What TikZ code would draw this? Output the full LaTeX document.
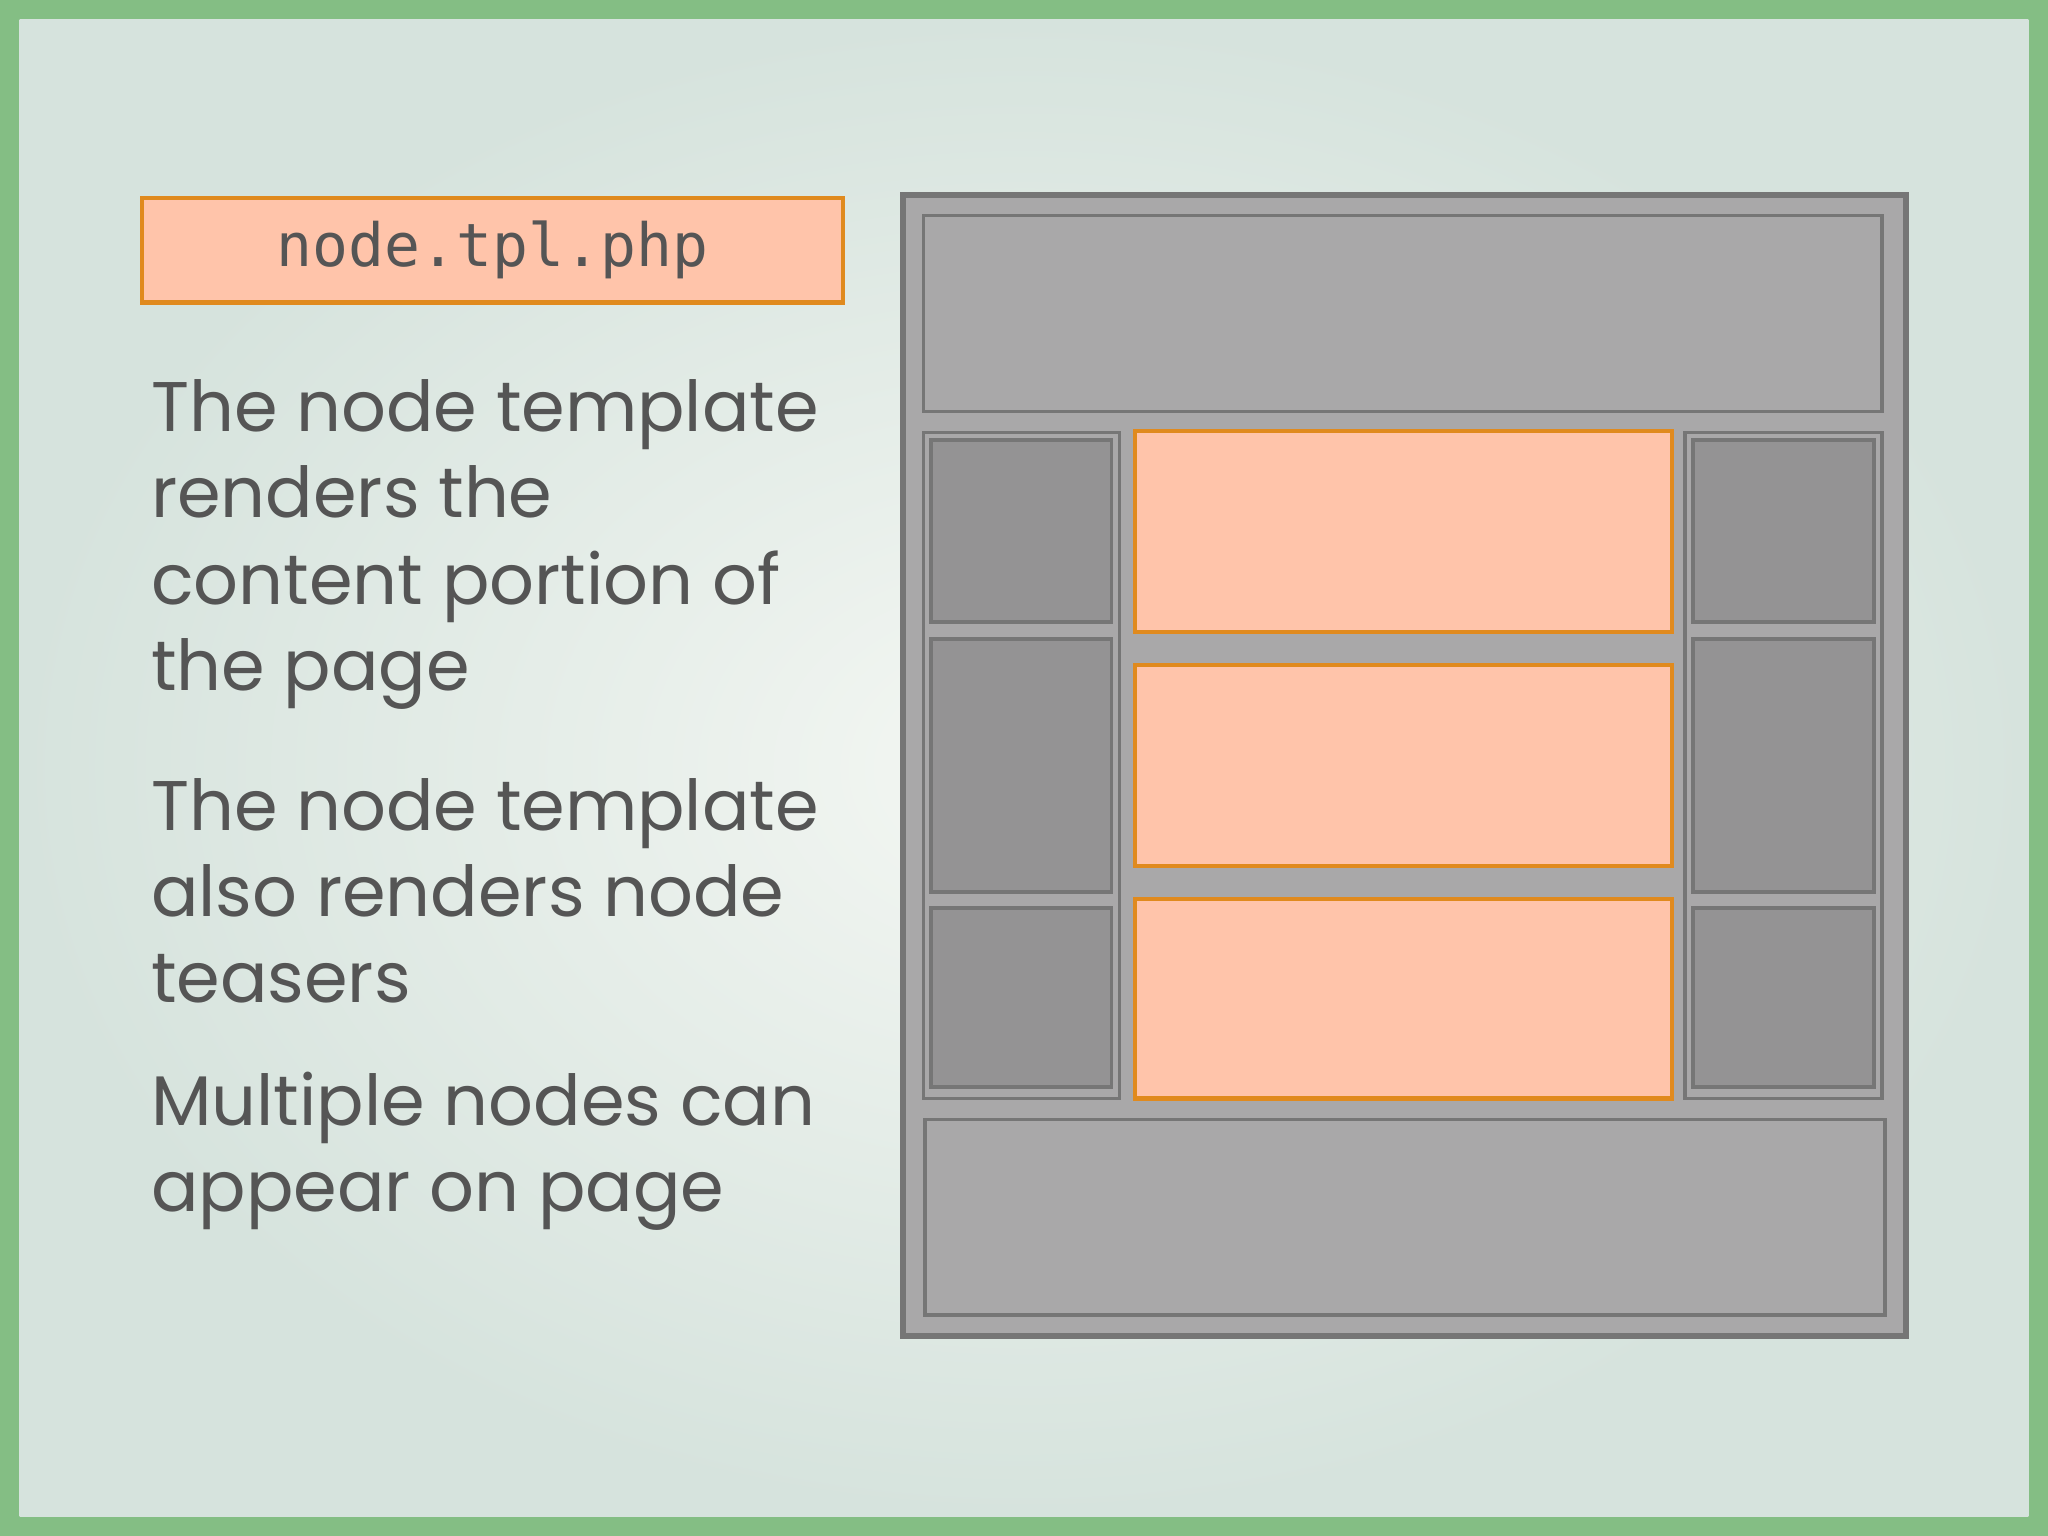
\documentclass[tikz,border=0pt]{standalone}
\usepackage{fontspec}
\setmainfont{Poppins}
\setmonofont{DejaVu Sans Mono}
\definecolor{frame}{HTML}{84BE84}
\definecolor{bgin}{HTML}{F4F7F3}
\definecolor{bgout}{HTML}{D6E3DD}
\definecolor{wfill}{HTML}{A9A8A9}
\definecolor{wline}{HTML}{767676}
\definecolor{dfill}{HTML}{949394}
\definecolor{pfill}{HTML}{FFC4AA}
\definecolor{pline}{HTML}{E08A1E}
\definecolor{txt}{HTML}{555555}
\begin{document}
\begin{tikzpicture}[x=0.1mm,y=-0.1mm,
  wbox/.style={fill=wfill,draw=wline,line width=0.8pt},
  dbox/.style={fill=dfill,draw=wline,line width=0.8pt},
  pbox/.style={fill=pfill,draw=pline,line width=0.9pt},
  para/.style={anchor=north west,align=left,text=txt,font=\fontsize{15.3}{18.8}\selectfont,inner sep=0pt}]
\useasboundingbox (0,0) rectangle (1568,1176);
\fill[frame] (0,0) rectangle (1568,1176);
\shade[inner color=bgin,outer color=bgout] (15,15) rectangle (1553,1161);
% label
\node[pbox,minimum width=537*0.1mm,minimum height=80*0.1mm,anchor=north west,inner sep=0pt,
  font=\ttfamily\fontsize{13}{15}\selectfont,text=txt] (lbl) at (107,150) {node.tpl.php};
\node[para] (p1) at (115,290) {The node template\\renders the\\content portion of\\the page};
\node[para] (p2) at (115,595) {The node template\\also renders node\\teasers};
\node[para] (p3) at (115,820) {Multiple nodes can\\appear on page};
% wireframe
\draw[wbox,line width=1.3pt] (691,149) rectangle (1459,1023);
\draw[wbox] (707,165) rectangle (1441,315);
\draw[wbox] (708,857) rectangle (1443,1007);
\draw[wbox] (707,331) rectangle (857,841);
\draw[dbox] (713,337) rectangle (851,476);
\draw[dbox] (713,489) rectangle (851,683);
\draw[dbox] (713,695) rectangle (851,832);
\draw[wbox] (1290,331) rectangle (1441,841);
\draw[dbox] (1296,337) rectangle (1435,476);
\draw[dbox] (1296,489) rectangle (1435,683);
\draw[dbox] (1296,695) rectangle (1435,832);
\draw[pbox] (869,330) rectangle (1280,484);
\draw[pbox] (869,509) rectangle (1280,663);
\draw[pbox] (869,688) rectangle (1280,841);
\end{tikzpicture}
\end{document}
